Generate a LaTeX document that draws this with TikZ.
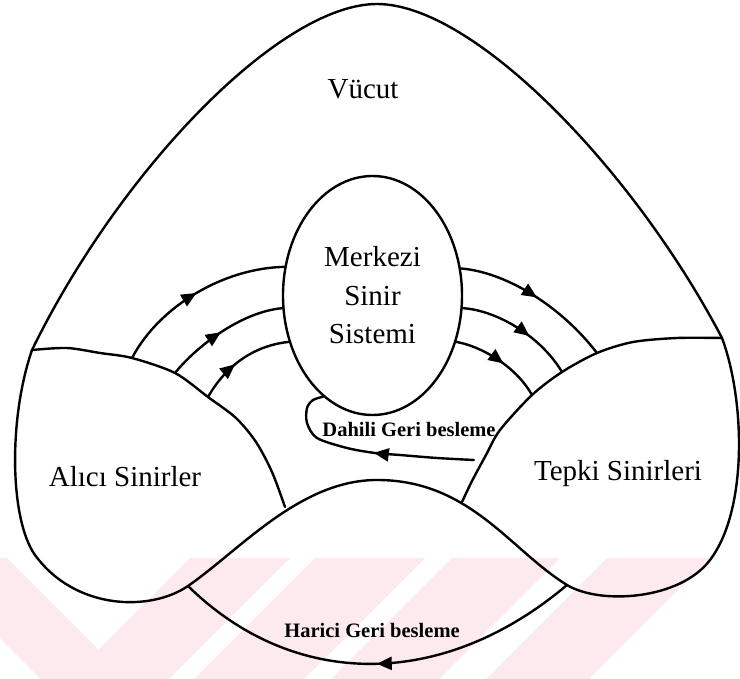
\documentclass[tikz,border=0pt]{standalone}
\usepackage{fontspec}
\setmainfont{Liberation Serif}
\usetikzlibrary{shapes.geometric,arrows.meta,decorations.markings}

\definecolor{wmark}{RGB}{252,234,238}

\tikzset{
  contour/.style={line width=2.4pt, line join=round, line cap=round},
  flow/.style={contour, postaction={decorate},
    decoration={markings, mark=at position #1 with {\arrow{Triangle[length=15pt,width=13pt]}}}},
  bigtext/.style={font=\fontsize{29}{38.5}\selectfont, inner sep=0pt, anchor=base},
  smalltext/.style={font=\bfseries\fontsize{20.5}{24}\selectfont, inner sep=0pt, anchor=base},
}

\begin{document}
\begin{tikzpicture}[x=1pt,y=-1pt]
\useasboundingbox (0,0) rectangle (740,679);

% faint chevron band along the bottom
\begin{scope}
  \clip (0,558) rectangle (740,679);
  \fill[wmark] (-80,558) -- (105,743) -- (290,558) -- (190,558)
               -- (98.5,649.5) -- (7,558) -- cycle;
  \foreach \a/\b in {873/983, 1010/1118, 1165/1268}
    \fill[wmark] ({\a-558},558) -- ({\b-558},558) -- ({\b-679},679) -- ({\a-679},679) -- cycle;
\end{scope}

% junction points
\coordinate (Lcusp) at (32,350);
\coordinate (Rcusp) at (722,338);
\coordinate (L1) at (132,358);
\coordinate (L2) at (175,373);
\coordinate (L3) at (208,397);
\coordinate (LA) at (285,507);
\coordinate (R1) at (597,353);
\coordinate (R2) at (562,372);
\coordinate (R3) at (532,395);
\coordinate (RA) at (462,502);
\coordinate (Hs) at (567,585);
\coordinate (He) at (188,586);
\coordinate (Ds) at (474,460);

% body outline with the two nerve lobes and the lower bump
\draw[contour] (Lcusp) .. controls (120,170) and (280,4) .. (377,4)
  .. controls (474,4) and (634,170) .. (Rcusp)
  .. controls (745,400) and (748,510) .. (710,560)
  .. controls (680,600) and (600,605) .. (Hs)
  .. controls (510,550) and (470,480) .. (377,480)
  .. controls (300,480) and (240,550) .. (He)
  .. controls (150,612) and (75,610) .. (35,555)
  .. controls (10,520) and (8,420) .. cycle;

% inner edges of the receptor and effector lobes
\draw[contour] plot[smooth] coordinates {
  (Lcusp) (67,348) (100,353) (L1) (L2) (L3) (236,418) (256,442) (272,472) (LA)};
\draw[contour] plot[smooth] coordinates {
  (Rcusp) (677,338) (633,342) (R1) (R2) (R3) (500,430) (486,455) (472,481) (RA)};

% central nervous system
\node[draw, contour, ellipse, minimum width=179pt, minimum height=239pt, inner sep=0pt,
      align=center, font=\fontsize{29}{38.5}\selectfont] (cns) at (372.5,295.5)
      {Merkezi\\Sinir\\Sistemi};

% afferent paths
\draw[flow=0.5]  (L1) .. controls (160,305) and (225,268) .. (cns.162);
\draw[flow=0.48] (L2) .. controls (195,348) and (240,312) .. (cns.188);
\draw[flow=0.42] (L3) .. controls (228,362) and (258,345) .. (cns.209);

% efferent paths
\draw[flow=0.5]  (cns.17)  .. controls (505,272) and (560,305) .. (R1);
\draw[flow=0.6]  (cns.352) .. controls (495,310) and (540,335) .. (R2);
\draw[flow=0.55] (cns.331) .. controls (480,346) and (515,365) .. (R3);

% internal feedback loop
\draw[flow=0.47] plot[smooth] coordinates {
  (Ds) (437,458) (400,455) (375,453) (347,448) (317,438) (307,423) (307,408) (313,400) (cns.244)};

% external feedback loop
\draw[flow=0.5] (Hs) .. controls (443,690) and (294,690) .. (He);

% labels
\node[bigtext] (vucut) at (363,99) {Vücut};
\node[bigtext] (alici) at (125,486) {Alıcı Sinirler};
\node[bigtext] (tepki) at (618,481) {Tepki Sinirleri};
\node[smalltext] (dahili) at (409,436) {Dahili Geri besleme};
\node[smalltext] (harici) at (372,637) {Harici Geri besleme};
\end{tikzpicture}
\end{document}
